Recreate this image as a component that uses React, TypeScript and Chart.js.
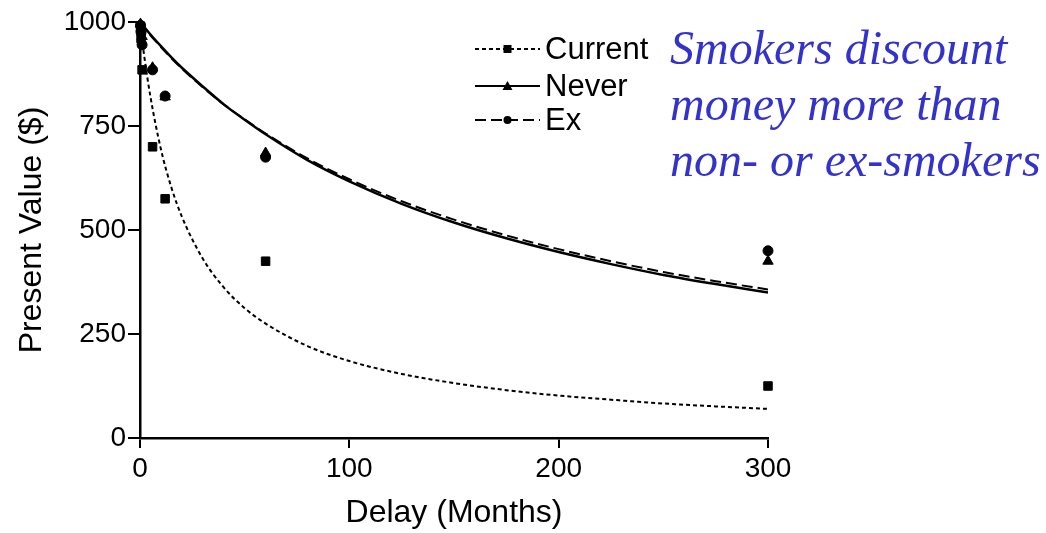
import React, { useEffect, useRef } from "react";
import { Chart, registerables } from "chart.js";

Chart.register(...registerables);

// Fitted curves
const curveDelays = [0, 2, 5, 10, 15, 20, 30, 40, 50, 60, 80, 100, 125, 150, 175, 200, 225, 250, 275, 300];
const currentCurve = [1000, 919, 820, 694, 602, 532, 431, 362, 312, 275, 221, 185, 154, 132, 115, 102, 92, 83, 76, 70];
const neverCurve = [1000, 988, 970, 942, 915, 890, 845, 802, 765, 730, 668, 617, 563, 518, 480, 447, 418, 392, 370, 350];
const exCurve = [1000, 987, 968, 940, 913, 888, 843, 802, 766, 732, 672, 622, 569, 525, 487, 454, 425, 399, 377, 357];

// Observed medians
const pointDelays = [0.25, 0.5, 1, 6, 12, 60, 300];
const currentPoints = [990, 960, 885, 700, 575, 425, 125];
const neverPoints = [995, 985, 965, 890, 820, 685, 425];
const exPoints = [992, 975, 945, 885, 822, 675, 450];

const xTicks = [0, 100, 200, 300];
const yTicks = [0, 250, 500, 750, 1000];

const seriesNames = ["Current", "Never", "Ex"];
const annotationLines = ["Smokers discount", "money more than", "non- or ex-smokers"];

const FONT = "'Liberation Sans', Arial, Helvetica, sans-serif";

const toXY = (xs: number[], ys: number[]) => xs.map((x, i) => ({ x, y: ys[i] }));

export default function App() {
  const ref = useRef<HTMLCanvasElement | null>(null);

  useEffect(() => {
    if (!ref.current) return;
    const dashes = [[4, 3], [], [11, 5]];
    const styles: any[] = ["rect", "triangle", "circle"];
    const legendPlugin = {
      id: "customLegend",
      afterDraw(chart: any) {
        const ctx = chart.ctx;
        ctx.save();
        const x0 = 475, x1 = 540, tx = 545;
        const ys = [49, 86, 120];
        seriesNames.forEach((name, i) => {
          const y = ys[i];
          ctx.strokeStyle = "#000";
          ctx.lineWidth = 2;
          ctx.setLineDash(dashes[i]);
          ctx.beginPath();
          ctx.moveTo(x0, y);
          ctx.lineTo(x1, y);
          ctx.stroke();
          ctx.setLineDash([]);
          ctx.fillStyle = "#000";
          const cx = (x0 + x1) / 2;
          ctx.beginPath();
          if (i === 0) ctx.rect(cx - 4, y - 4, 8, 8);
          else if (i === 1) {
            ctx.moveTo(cx, y - 5);
            ctx.lineTo(cx + 5, y + 4);
            ctx.lineTo(cx - 5, y + 4);
            ctx.closePath();
          } else ctx.arc(cx, y, 4, 0, Math.PI * 2);
          ctx.fill();
          ctx.font = `31px ${FONT}`;
          ctx.textBaseline = "middle";
          ctx.textAlign = "left";
          ctx.fillText(name, tx, y + 1);
        });
        ctx.restore();
      },
    };

    const chart = new Chart(ref.current, {
      type: "scatter",
      data: {
        datasets: [
          { label: "Current fit", data: toXY(curveDelays, currentCurve), showLine: true, borderColor: "#000", borderWidth: 2, borderDash: [4, 3], pointRadius: 0, cubicInterpolationMode: "monotone" },
          { label: "Never fit", data: toXY(curveDelays, neverCurve), showLine: true, borderColor: "#000", borderWidth: 2.5, pointRadius: 0, cubicInterpolationMode: "monotone" },
          { label: "Ex fit", data: toXY(curveDelays, exCurve), showLine: true, borderColor: "#000", borderWidth: 2, borderDash: [11, 5], pointRadius: 0, cubicInterpolationMode: "monotone" },
          { label: seriesNames[0], data: toXY(pointDelays, currentPoints), showLine: false, pointStyle: styles[0], pointRadius: 6, backgroundColor: "#000", borderColor: "#000", clip: false },
          { label: seriesNames[1], data: toXY(pointDelays, neverPoints), showLine: false, pointStyle: styles[1], pointRadius: 6, backgroundColor: "#000", borderColor: "#000", clip: false },
          { label: seriesNames[2], data: toXY(pointDelays, exPoints), showLine: false, pointStyle: styles[2], pointRadius: 5, backgroundColor: "#000", borderColor: "#000", clip: false },
        ] as any,
      },
      options: {
        animation: false,
        responsive: false,
        events: [],
        layout: { padding: { left: 0, right: 278, top: 22, bottom: 0 } },
        plugins: { legend: { display: false }, tooltip: { enabled: false } },
        scales: {
          x: {
            type: "linear",
            min: 0,
            max: 300,
            afterFit: (s: any) => { s.height = 95; },
            afterBuildTicks: (s: any) => { s.ticks = xTicks.map((v) => ({ value: v })); },
            grid: { drawOnChartArea: false, drawTicks: true, tickLength: 10, color: "#000", lineWidth: 2 },
            border: { display: true, color: "#000", width: 2.5 },
            ticks: { color: "#000", font: { family: FONT, size: 28 }, padding: 4, maxRotation: 0, callback: (v: any) => String(v) },
            title: { display: true, text: "Delay (Months)", color: "#000", font: { family: FONT, size: 32 }, padding: { top: 0, bottom: 1 } },
          },
          y: {
            type: "linear",
            min: 0,
            max: 1000,
            afterFit: (s: any) => { s.width = 140; },
            afterBuildTicks: (s: any) => { s.ticks = yTicks.map((v) => ({ value: v })); },
            grid: { drawOnChartArea: false, drawTicks: true, tickLength: 12, color: "#000", lineWidth: 2 },
            border: { display: true, color: "#000", width: 2.5 },
            ticks: { color: "#000", font: { family: FONT, size: 28 }, padding: 2, callback: (v: any) => String(v) },
            title: { display: true, text: "Present Value ($)", color: "#000", font: { family: FONT, size: 32 }, padding: { top: 13, bottom: 0 } },
          },
        },
      },
      plugins: [legendPlugin],
    } as any);
    return () => chart.destroy();
  }, []);

  return (
    <div style={{ position: "absolute", left: 0, top: 0, width: 1046, height: 533, background: "#fff" }}>
      <canvas ref={ref} width={1046} height={533} style={{ width: 1046, height: 533, display: "block" }} />
      <div
        style={{
          position: "absolute",
          left: 670,
          top: 20,
          fontFamily: "'Liberation Serif', 'Times New Roman', serif",
          fontStyle: "italic",
          fontSize: 48,
          lineHeight: "56px",
          color: "rgb(51,51,204)",
          whiteSpace: "nowrap",
        }}
      >
        {annotationLines.map((t, i) => (
          <div key={i}>{t}</div>
        ))}
      </div>
    </div>
  );
}
